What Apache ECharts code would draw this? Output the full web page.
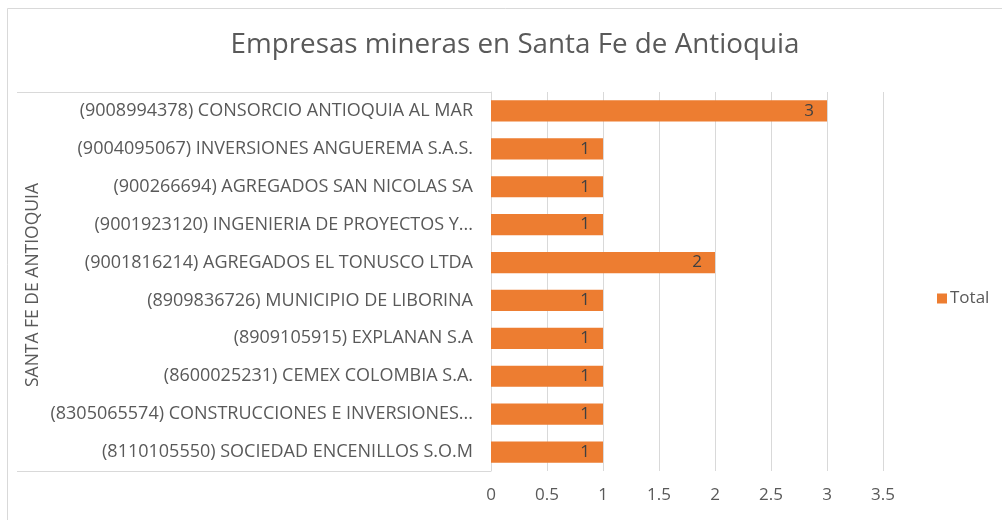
<!DOCTYPE html>
<html>
<head>
<meta charset="utf-8">
<script src="https://cdn.jsdelivr.net/npm/echarts@6/dist/echarts.min.js"></script>
<style>html,body{margin:0;padding:0;background:#fff;}#c{width:1002px;height:520px;}</style>
</head>
<body>
<div id="c"></div>
<script>
var categories = [
  "(8110105550) SOCIEDAD ENCENILLOS S.O.M",
  "(8305065574) CONSTRUCCIONES E INVERSIONES...",
  "(8600025231) CEMEX COLOMBIA S.A.",
  "(8909105915) EXPLANAN S.A",
  "(8909836726) MUNICIPIO DE LIBORINA",
  "(9001816214) AGREGADOS EL TONUSCO LTDA",
  "(9001923120) INGENIERIA DE PROYECTOS Y...",
  "(900266694) AGREGADOS SAN NICOLAS SA",
  "(9004095067) INVERSIONES ANGUEREMA S.A.S.",
  "(9008994378) CONSORCIO ANTIOQUIA AL MAR"
];
var totals = [1, 1, 1, 1, 1, 2, 1, 1, 1, 3];
var seriesName = "Total";
var groupLabel = "SANTA FE DE ANTIOQUIA";
var titleText = "Empresas mineras en Santa Fe de Antioquia";

var FONT = "'Open Sans', sans-serif";
var chart = echarts.init(document.getElementById('c'), null, {renderer: 'canvas'});
chart.setOption({
  animation: false,
  backgroundColor: '#fff',
  title: {
    text: titleText, left: 510, top: 26, textAlign: 'center',
    textStyle: {fontFamily: FONT, fontSize: 27.8, fontWeight: 'normal', color: '#595959'}
  },
  legend: {
    data: [seriesName], left: 932, top: 285, itemWidth: 10, itemHeight: 10, itemGap: 5,
    icon: 'rect',
    textStyle: {fontFamily: FONT, fontSize: 17, color: '#595959', padding: [0,0,0,-2]}
  },
  grid: {left: 491, right: 119, top: 92, bottom: 49, containLabel: false},
  xAxis: {
    type: 'value', min: 0, max: 3.5, interval: 0.5,
    axisLine: {show: false}, axisTick: {show: false},
    splitLine: {lineStyle: {color: '#d9d9d9', width: 1}},
    axisLabel: {fontFamily: FONT, fontSize: 17, color: '#595959', margin: 16}
  },
  yAxis: {
    type: 'category', data: categories,
    axisLine: {lineStyle: {color: '#d9d9d9'}}, axisTick: {show: false},
    axisLabel: {fontFamily: FONT, fontSize: 18, color: '#595959', margin: 18}
  },
  series: [{
    name: seriesName, type: 'bar', data: totals, barCategoryGap: '44%',
    itemStyle: {color: '#ED7D31'},
    label: {show: true, position: 'insideRight', distance: 13, fontFamily: FONT, fontSize: 17, color: '#404040'}
  }],
  graphic: [
    {type: 'rect', shape: {x: 7.5, y: 8.5, width: 1100, height: 600}, style: {fill: 'none', stroke: '#d9d9d9', lineWidth: 1}, silent: true},
    {type: 'line', shape: {x1: 17, y1: 92.5, x2: 491, y2: 92.5}, style: {stroke: '#d9d9d9', lineWidth: 1}},
    {type: 'line', shape: {x1: 17, y1: 471.5, x2: 491, y2: 471.5}, style: {stroke: '#d9d9d9', lineWidth: 1}},
    {type: 'text', x: 33, y: 285, rotation: Math.PI / 2,
      style: {text: groupLabel, fontFamily: FONT, fontSize: 17.5, fill: '#595959', textAlign: 'center', textVerticalAlign: 'middle'}}
  ]
});
</script>
</body>
</html>
